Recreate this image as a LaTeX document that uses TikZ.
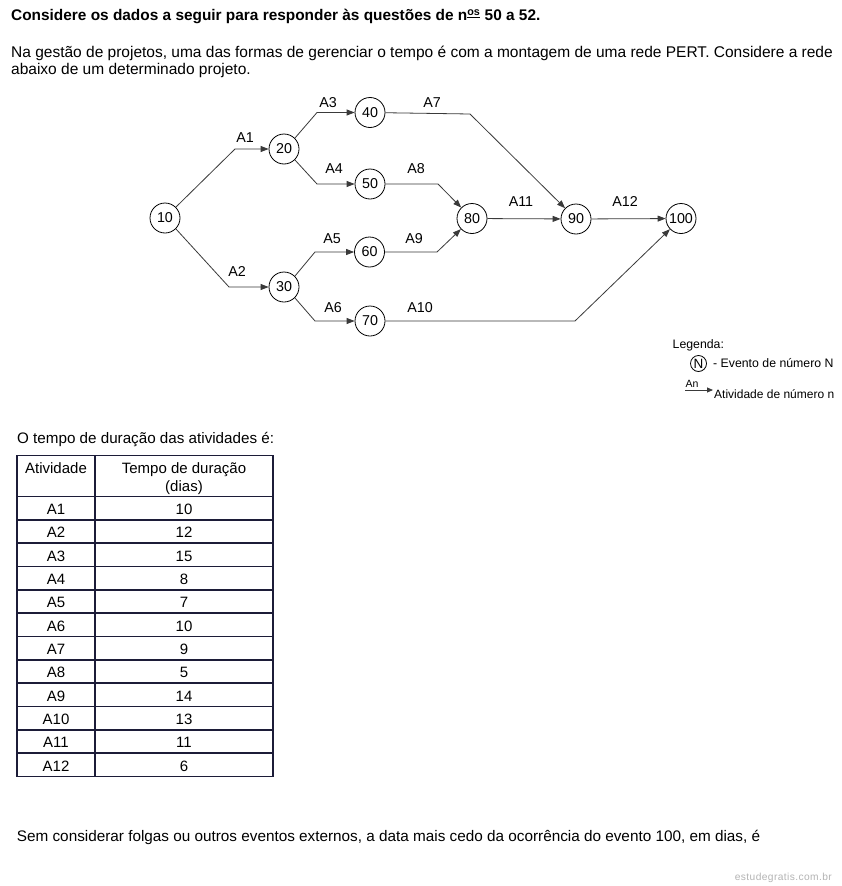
\documentclass[tikz,border=0pt]{standalone}
\usepackage{fontspec}
\setmainfont{Liberation Sans}
\newfontfamily\wmfont[LetterSpace=4]{Liberation Sans}
\usetikzlibrary{arrows.meta}
\definecolor{edgegray}{HTML}{3A3A3A}
\definecolor{tabline}{HTML}{1C1C38}
\definecolor{wmgray}{HTML}{B4B4B4}
\begin{document}
\begin{tikzpicture}[x=1pt,y=-1pt,
  event/.style={circle,draw=black,line width=0.8pt,minimum size=30pt,inner sep=0pt,font=\fontsize{14.3}{16}\selectfont},
  act/.style={draw=edgegray,line width=0.8pt,-{Triangle[length=8pt,width=6pt]}},
  actlabel/.style={font=\fontsize{14.3}{16}\selectfont,inner sep=0pt},
  para/.style={anchor=base west,inner sep=0pt,font=\fontsize{15.5}{17.5}\selectfont},
  cell/.style={anchor=base,inner sep=0pt,font=\fontsize{15}{17}\selectfont},
  legtext/.style={anchor=base west,inner sep=0pt,font=\fontsize{12.3}{14}\selectfont},
  tab/.style={draw=tabline,line width=1.8pt}
]
\useasboundingbox[fill=white] (0,0) rectangle (842,886);

% texts
\node[para,font=\fontsize{15.4}{17.5}\selectfont\bfseries] (title) at (11,20.5) {Considere os dados a seguir para responder às questões de n\textsuperscript{\underline{os}} 50 a 52.};
\node[para] (p1) at (11,57) {Na gestão de projetos, uma das formas de gerenciar o tempo é com a montagem de uma rede PERT. Considere a rede};
\node[para] (p2) at (11,74.5) {abaixo de um determinado projeto.};

% events
\node[event] (n10) at (165,218) {10};
\node[event] (n20) at (284,149) {20};
\node[event] (n30) at (284,287) {30};
\node[event] (n40) at (370,112.5) {40};
\node[event] (n50) at (370,184) {50};
\node[event] (n60) at (369.5,252) {60};
\node[event] (n70) at (370,321) {70};
\node[event] (n80) at (472,218.5) {80};
\node[event] (n90) at (576,219) {90};
\node[event] (n100) at (681,218.5) {100};

% bends
\coordinate (b1) at (235,149);
\coordinate (b2) at (229,287);
\coordinate (b3) at (317,112.5);
\coordinate (b4) at (317,184);
\coordinate (b5) at (315,252);
\coordinate (b6) at (315,321);
\coordinate (b7) at (470,114);
\coordinate (b8) at (438,184);
\coordinate (b9) at (437,252);
\coordinate (b10) at (575,321);

\draw[act] (n10.45) -- (b1) -- (n20);
\draw[act] (n10.-45) -- (b2) -- (n30);
\draw[act] (n20.45) -- (b3) -- (n40);
\draw[act] (n20.-45) -- (b4) -- (n50);
\draw[act] (n30.45) -- (b5) -- (n60);
\draw[act] (n30.-45) -- (b6) -- (n70);
\draw[act] (n40) -- (b7) -- (n90);
\draw[act] (n50) -- (b8) -- (n80);
\draw[act] (n60) -- (b9) -- (n80);
\draw[act] (n70) -- (b10) -- (n100);
\draw[act] (n80) -- (n90);
\draw[act] (n90) -- (n100);

\node[actlabel] (lA1) at (245,138) {A1};
\node[actlabel] (lA2) at (237,272) {A2};
\node[actlabel] (lA3) at (328,103) {A3};
\node[actlabel] (lA4) at (334,169) {A4};
\node[actlabel] (lA5) at (332,239) {A5};
\node[actlabel] (lA6) at (333,308) {A6};
\node[actlabel] (lA7) at (432,103) {A7};
\node[actlabel] (lA8) at (416,169) {A8};
\node[actlabel] (lA9) at (414,239) {A9};
\node[actlabel] (lA10) at (420,308) {A10};
\node[actlabel] (lA11) at (521,202) {A11};
\node[actlabel] (lA12) at (625,202) {A12};

% legend
\node[legtext] (leg) at (672.5,348.5) {Legenda:};
\node[circle,draw=black,line width=0.8pt,minimum size=16pt,inner sep=0pt,font=\fontsize{13.5}{15}\selectfont] (legN) at (698.5,363.5) {N};
\node[legtext] (legNt) at (713,367.5) {- Evento de número N};
\coordinate (la1) at (685,390);
\coordinate (la2) at (713,390);
\draw[draw=edgegray,line width=0.8pt,-{Triangle[length=6pt,width=5pt]}] (la1) -- (la2);
\node[inner sep=0pt,font=\fontsize{10.5}{12}\selectfont] (legAn) at (692,384) {An};
\node[legtext,font=\fontsize{12}{14}\selectfont] (legAt) at (714,398.5) {Atividade de número n};

% table
\node[para,font=\fontsize{15.2}{17}\selectfont] (tcap) at (17,443.3) {O tempo de duração das atividades é:};
\draw[tab] (17,455.5) rectangle (273,776.5);
\draw[tab] (95,455.5) -- (95,776.5);
\draw[tab] (17,496.5) -- (273,496.5);
\foreach \k in {1,...,11} {
  \draw[tab] (17,{496.5+23.333*\k}) -- (273,{496.5+23.333*\k});
}
\node[cell] (h1) at (56,473.3) {Atividade};
\node[cell] (h2) at (184,473.3) {Tempo de duração};
\node[cell] (h3) at (184,491.7) {(dias)};
\foreach \a/\t [count=\i] in {A1/10,A2/12,A3/15,A4/8,A5/7,A6/10,A7/9,A8/5,A9/14,A10/13,A11/11,A12/6} {
  \node[cell] (ra\i) at (56,{496.5+23.333*\i-11.667+6.4}) {\a};
  \node[cell] (rt\i) at (184,{496.5+23.333*\i-11.667+6.4}) {\t};
}

% bottom
\node[para,font=\fontsize{15.3}{17.5}\selectfont] (q) at (16.7,841.7) {Sem considerar folgas ou outros eventos externos, a data mais cedo da ocorrência do evento 100, em dias, é};
\node[anchor=base east,inner sep=0pt,text=wmgray,font=\wmfont\fontsize{10.2}{12}\selectfont] (wm) at (832,880.5) {estudegratis.com.br};
\end{tikzpicture}
\end{document}
